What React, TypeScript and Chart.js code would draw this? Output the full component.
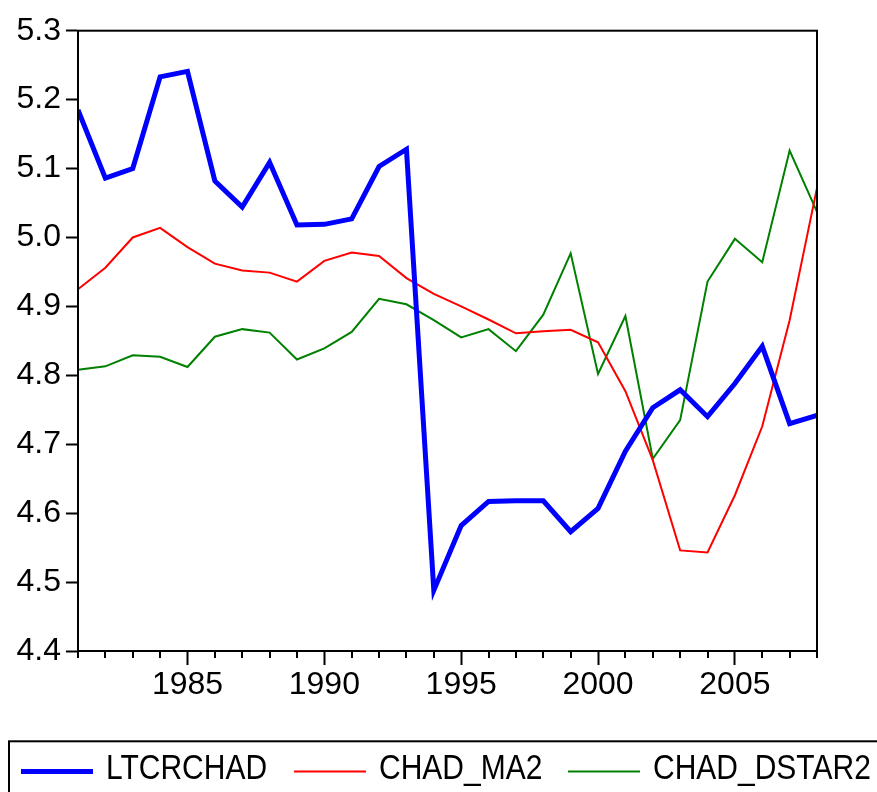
import React, { useEffect, useRef } from "react";
import { Chart, registerables } from "chart.js";

Chart.register(...registerables);

// Annual observations, 1981-2008
const years = [
  1981, 1982, 1983, 1984, 1985, 1986, 1987, 1988, 1989, 1990, 1991, 1992, 1993, 1994,
  1995, 1996, 1997, 1998, 1999, 2000, 2001, 2002, 2003, 2004, 2005, 2006, 2007, 2008,
];

const ltcrchad = [
  5.185, 5.086, 5.1, 5.233, 5.241, 5.082, 5.044, 5.109, 5.018, 5.019, 5.027, 5.103, 5.128, 4.488,
  4.582, 4.617, 4.618, 4.618, 4.573, 4.607, 4.69, 4.753, 4.779, 4.74, 4.788, 4.842, 4.73, 4.742,
];

const chadMa2 = [
  4.925, 4.956, 5.0, 5.014, 4.986, 4.962, 4.952, 4.949, 4.936, 4.966, 4.978, 4.973, 4.941, 4.918,
  4.9, 4.881, 4.861, 4.864, 4.866, 4.848, 4.777, 4.677, 4.546, 4.543, 4.626, 4.726, 4.88, 5.072,
];

const chadDstar2 = [
  4.808, 4.813, 4.829, 4.827, 4.812, 4.856, 4.867, 4.862, 4.823, 4.839, 4.863, 4.911, 4.903, 4.88,
  4.855, 4.867, 4.835, 4.888, 4.977, 4.802, 4.886, 4.679, 4.735, 4.936, 4.998, 4.964, 5.126, 5.037,
];

const seriesNames = ["LTCRCHAD", "CHAD_MA2", "CHAD_DSTAR2"];
const yRange = [4.4, 5.3];
const yStep = 0.1;
const labelEvery = 5;

const FONT = '"Liberation Sans", Arial, Helvetica, sans-serif';
const MAJOR_TICK = 14;
const MINOR_TICK = 7;

// Closed frame around the plotting area, plus short ticks for unlabelled years
const frame = {
  id: "frame",
  afterDraw(chart: any) {
    const { ctx, chartArea: a } = chart;
    const xs = chart.scales.x;
    ctx.save();
    ctx.strokeStyle = "#000";
    ctx.lineWidth = 2;
    ctx.strokeRect(a.left, a.top, a.right - a.left, a.bottom - a.top);
    ctx.beginPath();
    years.forEach((yr) => {
      if (yr % labelEvery === 0) return;
      const px = Math.round(xs.getPixelForValue(yr));
      ctx.moveTo(px, a.bottom);
      ctx.lineTo(px, a.bottom + MINOR_TICK);
    });
    ctx.stroke();
    ctx.restore();
  },
};

// Boxed legend along the bottom edge
const legendStarts = [21, 294, 568];
const boxedLegend = {
  id: "boxedLegend",
  afterDraw(chart: any) {
    const { ctx } = chart;
    ctx.save();
    ctx.strokeStyle = "#000";
    ctx.lineWidth = 2;
    ctx.strokeRect(9, 741.3, chart.width + 40, 120);
    chart.data.datasets.forEach((ds: any, i: number) => {
      const x = legendStarts[i];
      ctx.strokeStyle = ds.borderColor;
      ctx.lineWidth = ds.borderWidth;
      ctx.beginPath();
      ctx.moveTo(x, 771.5);
      ctx.lineTo(x + 72, 771.5);
      ctx.stroke();
      // legend captions are set slightly tall
      ctx.save();
      ctx.translate(x + 85, 769.5);
      ctx.scale(1, 1.18);
      ctx.font = `30px ${FONT}`;
      ctx.textBaseline = "middle";
      ctx.textAlign = "left";
      ctx.fillStyle = "#000";
      ctx.fillText(ds.label, 0, 0);
      ctx.restore();
    });
    ctx.restore();
  },
};

const toPoints = (vals: number[]) => years.map((x, i) => ({ x, y: vals[i] }));

export default function App() {
  const canvasRef = useRef<HTMLCanvasElement | null>(null);

  useEffect(() => {
    if (!canvasRef.current) return;
    const chart = new Chart(canvasRef.current, {
      type: "line",
      data: {
        datasets: [
          {
            label: seriesNames[0],
            data: toPoints(ltcrchad),
            borderColor: "#0000ff",
            borderWidth: 5,
            pointRadius: 0,
            borderJoinStyle: "miter",
            tension: 0,
          },
          {
            label: seriesNames[1],
            data: toPoints(chadMa2),
            borderColor: "#ff0000",
            borderWidth: 2,
            pointRadius: 0,
            tension: 0,
          },
          {
            label: seriesNames[2],
            data: toPoints(chadDstar2),
            borderColor: "#008000",
            borderWidth: 2,
            pointRadius: 0,
            tension: 0,
          },
        ],
      },
      options: {
        animation: false,
        responsive: true,
        maintainAspectRatio: false,
        layout: { padding: { left: 0, right: 60, top: 30.7, bottom: 91 } },
        plugins: {
          legend: { display: false },
          tooltip: { enabled: false },
        },
        scales: {
          x: {
            type: "linear",
            min: years[0],
            max: years[years.length - 1],
            afterFit: (s: any) => {
              s.height = 50;
            },
            afterBuildTicks: (s: any) => {
              s.ticks = years
                .filter((v) => v % labelEvery === 0)
                .map((v) => ({ value: v }));
            },
            ticks: {
              autoSkip: false,
              maxRotation: 0,
              padding: 1,
              color: "#000",
              font: { family: FONT, size: 32 },
              callback: (v: any) => String(v),
            },
            grid: {
              drawOnChartArea: false,
              drawTicks: true,
              tickLength: MAJOR_TICK,
              tickWidth: 2,
              tickColor: "#000",
            },
            border: { display: true, color: "#000", width: 2 },
          },
          y: {
            min: yRange[0],
            max: yRange[1],
            afterFit: (s: any) => {
              s.width = 78;
            },
            ticks: {
              stepSize: yStep,
              padding: 5,
              color: "#000",
              font: { family: FONT, size: 32 },
              callback: (v: any) => Number(v).toFixed(1),
            },
            grid: {
              drawOnChartArea: false,
              drawTicks: true,
              tickLength: 12,
              tickWidth: 2,
              tickColor: "#000",
            },
            border: { display: true, color: "#000", width: 2 },
          },
        },
      },
      plugins: [frame, boxedLegend],
    });
    return () => chart.destroy();
  }, []);

  return (
    <div
      style={{
        position: "fixed",
        left: 0,
        top: 0,
        width: 877,
        height: 792,
        background: "#fff",
        overflow: "hidden",
      }}
    >
      <canvas ref={canvasRef} />
    </div>
  );
}
